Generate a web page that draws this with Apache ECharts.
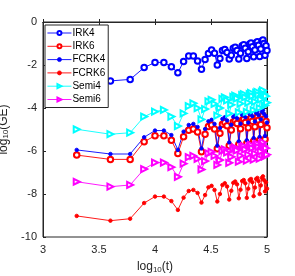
<!DOCTYPE html>
<html>
<head>
<meta charset="utf-8">
<script src="https://cdn.jsdelivr.net/npm/echarts@6/dist/echarts.min.js"></script>
<style>html,body{margin:0;padding:0;background:#fff}#c{width:295px;height:276px}</style>
</head>
<body>
<div id="c"></div>
<script>
var tValues = [2000,4000,6000,8000,10000,12000,14000,16000,18000,20000,
  22000,24000,26000,28000,30000,32000,34000,36000,38000,40000,
  42000,44000,46000,48000,50000,52000,54000,56000,58000,60000,
  62000,64000,66000,68000,70000,72000,74000,76000,78000,80000,
  82000,84000,86000,88000,90000,92000,94000,96000,98000,100000];
var xTicks = ['3','3.5','4','4.5','5'];
var yTicks = ['-10','-8','-6','-4','-2','0'];
var seriesNames = ['IRK4','IRK6','FCRK4','FCRK6','Semi4','Semi6'];

var IRK4 = [-2.78,-2.74,-2.67,-2.12,-1.88,-1.88,-2.08,-2.36,-1.84,-1.58,
  -1.58,-1.81,-2.20,-1.74,-1.46,-1.30,-1.45,-2.00,-1.70,-1.32,
  -1.28,-1.42,-1.72,-1.55,-1.22,-1.18,-1.32,-1.72,-1.45,-1.10,
  -1.06,-1.22,-1.70,-1.38,-1.02,-0.98,-1.15,-1.62,-1.30,-0.96,
  -0.92,-1.08,-1.60,-1.25,-0.88,-0.84,-1.00,-1.55,-1.10,-1.33];
var IRK6 = [-6.19,-6.39,-6.39,-5.57,-5.29,-5.29,-5.50,-6.12,-5.34,-5.03,
  -4.98,-5.12,-6.03,-5.22,-4.86,-4.79,-4.98,-5.90,-5.17,-4.75,
  -4.67,-4.82,-5.75,-5.02,-4.65,-4.59,-4.72,-5.70,-4.97,-4.57,
  -4.52,-4.67,-5.65,-4.92,-4.52,-4.47,-4.62,-5.55,-4.87,-4.47,
  -4.42,-4.57,-5.50,-4.77,-4.42,-4.35,-4.52,-5.45,-4.62,-4.92];
var FCRK4 = [-5.95,-6.14,-6.14,-5.36,-5.05,-5.05,-5.26,-5.95,-5.10,-4.79,
  -4.74,-4.88,-5.88,-4.98,-4.62,-4.55,-4.74,-5.75,-4.93,-4.51,
  -4.43,-4.58,-5.60,-4.78,-4.41,-4.35,-4.48,-5.55,-4.73,-4.33,
  -4.28,-4.43,-5.50,-4.68,-4.28,-4.23,-4.38,-5.40,-4.63,-4.23,
  -4.18,-4.33,-5.35,-4.53,-4.18,-4.11,-4.28,-5.30,-4.38,-4.68];
var FCRK6 = [-9.02,-9.24,-9.15,-8.42,-8.12,-8.12,-8.33,-8.74,-8.17,-7.86,
  -7.81,-7.95,-8.40,-8.05,-7.69,-7.62,-7.81,-8.35,-8.00,-7.58,
  -7.50,-7.65,-8.26,-7.85,-7.48,-7.42,-7.55,-8.20,-7.80,-7.40,
  -7.35,-7.50,-8.18,-7.75,-7.35,-7.30,-7.45,-8.10,-7.70,-7.30,
  -7.25,-7.40,-8.00,-7.60,-7.25,-7.18,-7.35,-7.88,-7.45,-7.75];
var Semi4 = [-4.99,-5.22,-5.15,-4.40,-4.17,-4.09,-4.40,-4.84,-4.25,-3.91,
  -3.78,-4.01,-4.53,-4.05,-3.69,-3.62,-3.81,-4.35,-4.00,-3.58,
  -3.50,-3.65,-4.26,-3.85,-3.48,-3.42,-3.55,-4.20,-3.80,-3.40,
  -3.35,-3.50,-4.18,-3.75,-3.35,-3.30,-3.45,-4.10,-3.70,-3.30,
  -3.25,-3.40,-4.00,-3.60,-3.25,-3.18,-3.35,-3.88,-3.45,-3.75];
var Semi6 = [-7.43,-7.66,-7.58,-6.84,-6.54,-6.54,-6.75,-7.20,-6.59,-6.28,
  -6.23,-6.37,-6.86,-6.47,-6.11,-6.04,-6.23,-6.65,-6.42,-6.00,
  -5.92,-6.07,-6.55,-6.27,-5.90,-5.84,-5.97,-6.50,-6.22,-5.82,
  -5.77,-5.92,-6.45,-6.17,-5.77,-5.72,-5.87,-6.40,-6.12,-5.72,
  -5.67,-5.82,-6.35,-6.02,-5.67,-5.60,-5.77,-6.25,-5.87,-6.17];

var xs = tValues.map(function(t){ return Math.log10(t); });
function pairs(arr){ return arr.map(function(v,i){ return [xs[i], v]; }); }

var styles = {
  IRK4:  {color:'#0000ff', symbol:'emptyCircle', size:5.5, rot:0},
  IRK6:  {color:'#ff0000', symbol:'emptyCircle', size:5.5, rot:0},
  FCRK4: {color:'#0000ff', symbol:'circle', size:3.5, rot:0},
  FCRK6: {color:'#ff0000', symbol:'circle', size:3.5, rot:0},
  Semi4: {color:'#00ffff', symbol:'emptyTriangle', size:6, rot:-90},
  Semi6: {color:'#ff00ff', symbol:'emptyTriangle', size:6, rot:-90}
};
var dataMap = {IRK4:IRK4, IRK6:IRK6, FCRK4:FCRK4, FCRK6:FCRK6, Semi4:Semi4, Semi6:Semi6};

var series = seriesNames.map(function(n){
  var s = styles[n];
  return {
    name: n, type: 'line', data: pairs(dataMap[n]),
    symbol: s.symbol, symbolSize: s.size, symbolRotate: s.rot,
    showAllSymbol: true, animation: false,
    lineStyle: {color: s.color, width: 0.9},
    itemStyle: {color: s.color, borderColor: s.color, borderWidth: 0.9}
  };
});

var axisCol = '#262626';
var fontFam = 'Liberation Sans, Arial, sans-serif';
var chart = echarts.init(document.getElementById('c'), null, {renderer:'canvas'});
chart.setOption({
  animation: false,
  backgroundColor: '#ffffff',
  grid: {left: 43, right: 28, top: 22, bottom: 39, show: true, borderColor: axisCol, borderWidth: 1,
    backgroundColor: 'transparent', outerBoundsMode: 'none', containLabel: false},
  legend: {
    data: seriesNames, orient: 'vertical', left: 45, top: 25,
    backgroundColor: '#ffffff', borderColor: axisCol, borderWidth: 1,
    padding: [3, 3, 3, 2], itemWidth: 24, itemHeight: 5, itemGap: 3.3,
    itemStyle: {borderWidth: 0.8},
    lineStyle: {width: 0.9},
    textStyle: {fontSize: 10, color: '#000', fontFamily: fontFam, padding: [0,0,0,-4]}
  },
  xAxis: [{
    type: 'value', min: 3, max: 5, interval: 0.5, position: 'bottom',
    axisLine: {show: true, lineStyle: {color: axisCol}},
    axisTick: {show: true, inside: true, length: 3, lineStyle: {color: axisCol}},
    splitLine: {show: false},
    axisLabel: {color: axisCol, fontSize: 11, fontFamily: fontFam, margin: 7,
      formatter: function(v){ var i = Math.round((v-3)/0.5); return xTicks[i] !== undefined ? xTicks[i] : ''; }},
    name: '{a|log}{s|10}{a|(t)}', nameLocation: 'middle', nameGap: 23,
    nameTextStyle: {rich: {a: {fontSize: 12, color: axisCol, fontFamily: fontFam}, s: {fontSize: 8, color: axisCol, fontFamily: fontFam, padding: [6,0,0,0]}}}
  }, {
    type: 'value', min: 3, max: 5, interval: 0.5, position: 'top',
    axisLine: {show: true, lineStyle: {color: axisCol}},
    axisTick: {show: true, inside: true, length: 3, lineStyle: {color: axisCol}},
    axisLabel: {show: false}, splitLine: {show: false}
  }],
  yAxis: [{
    type: 'value', min: -10, max: 0, interval: 2, position: 'left',
    axisLine: {show: true, lineStyle: {color: axisCol}},
    axisTick: {show: true, inside: true, length: 3, lineStyle: {color: axisCol}},
    splitLine: {show: false},
    axisLabel: {color: axisCol, fontSize: 11, fontFamily: fontFam, margin: 6,
      formatter: function(v){ var i = Math.round((v+10)/2); return yTicks[i] !== undefined ? yTicks[i] : ''; }},
    name: '{a|log}{s|10}{a|(GE)}', nameLocation: 'middle', nameGap: 26,
    nameTextStyle: {rich: {a: {fontSize: 12, color: axisCol, fontFamily: fontFam}, s: {fontSize: 8, color: axisCol, fontFamily: fontFam, padding: [6,0,0,0]}}}
  }, {
    type: 'value', min: -10, max: 0, interval: 2, position: 'right',
    axisLine: {show: true, lineStyle: {color: axisCol}},
    axisTick: {show: true, inside: true, length: 3, lineStyle: {color: axisCol}},
    axisLabel: {show: false}, splitLine: {show: false}
  }],
  series: series
});
</script>
</body>
</html>
